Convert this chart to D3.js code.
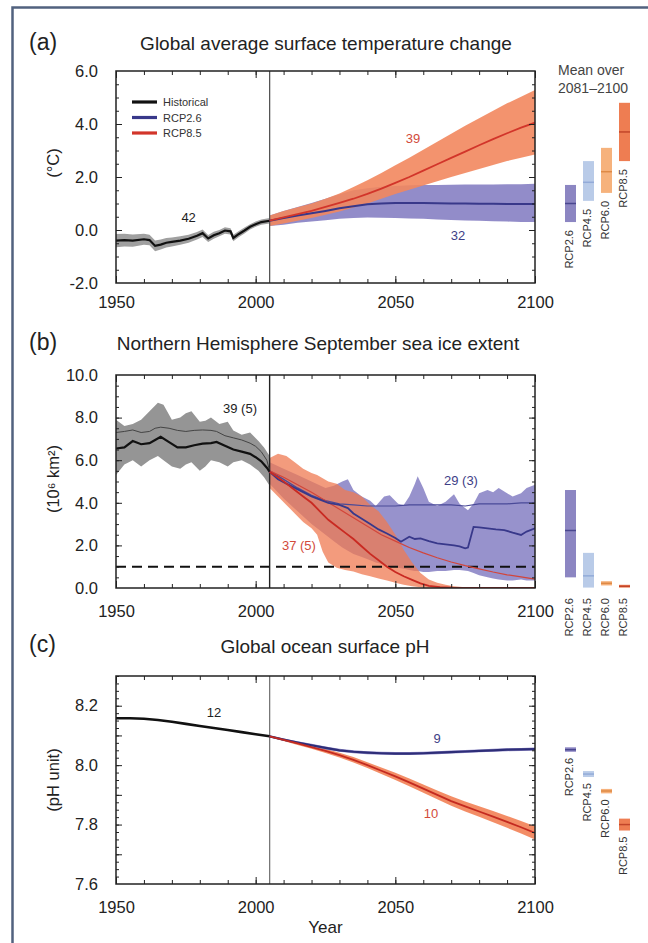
<!DOCTYPE html>
<html><head><meta charset="utf-8">
<script src="https://cdn.jsdelivr.net/npm/d3@7"></script>
<style>
body{margin:0;background:#fff}
svg{display:block;font-family:"Liberation Sans",Arial,Helvetica,sans-serif}
</style></head>
<body><svg id="chart" width="648" height="943"></svg>
<script>
// ---------------- DATA ----------------
const scenarios = ["RCP2.6","RCP4.5","RCP6.0","RCP8.5"];
const xTickLabels = [1950, 2000, 2050, 2100];
const rcpYears = [2005,2010,2015,2020,2025,2030,2035,2040,2045,2050,2055,2060,2065,2070,2075,2080,2085,2090,2095,2100];

// (a) temperature
const tempYTicks = [-2, 0, 2, 4, 6];
const tempHistYears = [1950,1953,1956,1960,1962,1964,1966,1968,1970,1973,1976,1979,1981,1983,1985,1987,1989,1991,1992,1994,1996,1998,2000,2002,2005];
const tempHistMean = [-0.40,-0.38,-0.40,-0.35,-0.38,-0.60,-0.55,-0.48,-0.45,-0.40,-0.33,-0.22,-0.12,-0.32,-0.20,-0.12,-0.02,-0.05,-0.30,-0.15,-0.02,0.12,0.22,0.30,0.35];
const tempHistLo = [-0.65,-0.62,-0.63,-0.56,-0.58,-0.80,-0.74,-0.66,-0.62,-0.56,-0.48,-0.36,-0.26,-0.45,-0.33,-0.24,-0.14,-0.17,-0.42,-0.26,-0.13,0.02,0.12,0.20,0.25];
const tempHistHi = [-0.15,-0.14,-0.17,-0.14,-0.18,-0.40,-0.36,-0.30,-0.28,-0.24,-0.18,-0.08,0.02,-0.19,-0.07,0.00,0.10,0.07,-0.18,-0.04,0.09,0.22,0.32,0.40,0.45];
const t26Mean = [0.35,0.45,0.55,0.63,0.72,0.82,0.90,0.97,1.00,1.02,1.02,1.02,1.01,1.00,1.00,0.99,0.99,0.98,0.98,0.98];
const t26Lo = [0.15,0.20,0.27,0.32,0.37,0.42,0.45,0.47,0.46,0.45,0.43,0.42,0.40,0.38,0.36,0.35,0.33,0.32,0.30,0.30];
const t26Hi = [0.55,0.72,0.87,1.02,1.18,1.35,1.50,1.58,1.63,1.66,1.69,1.70,1.70,1.71,1.72,1.72,1.72,1.73,1.73,1.75];
const t85Mean = [0.35,0.48,0.60,0.72,0.87,1.02,1.18,1.36,1.56,1.78,2.00,2.24,2.48,2.72,2.96,3.20,3.43,3.65,3.86,4.05];
const t85Lo = [0.15,0.25,0.35,0.45,0.58,0.70,0.85,1.00,1.18,1.36,1.52,1.68,1.84,2.00,2.15,2.30,2.45,2.60,2.73,2.85];
const t85Hi = [0.55,0.72,0.86,1.00,1.18,1.38,1.62,1.88,2.15,2.44,2.73,3.03,3.33,3.63,3.93,4.22,4.50,4.78,5.03,5.28];
const tempBarLo = [0.3, 1.1, 1.4, 2.6];
const tempBarHi = [1.7, 2.6, 3.1, 4.8];
const tempBarMean = [1.0, 1.8, 2.2, 3.7];
const tempCounts = ["42", "39", "32"];

// (b) sea ice
const iceYTicks = [0, 2, 4, 6, 8, 10];
const iceHistYears = [1950,1953,1956,1959,1962,1964,1966,1969,1972,1975,1978,1981,1984,1986,1989,1992,1995,1998,2000,2002,2004,2005];
const iceHistMean = [6.55,6.6,6.9,6.75,6.8,6.95,7.1,6.85,6.6,6.6,6.7,6.78,6.8,6.86,6.68,6.5,6.4,6.3,6.14,5.95,5.65,5.45];
const iceHistAll = [7.3,7.35,7.42,7.3,7.35,7.5,7.55,7.5,7.4,7.35,7.4,7.42,7.4,7.35,7.15,7.05,6.95,6.8,6.65,6.4,6.0,5.5];
const iceHistBandYears = [1950,1953,1956,1959,1962,1965,1967,1970,1973,1975,1977,1980,1982,1984,1987,1990,1992,1995,1998,2001,2003,2005];
const iceHistHi = [7.9,7.6,7.7,7.9,8.3,8.7,8.6,7.9,8.0,8.2,8.3,7.8,7.85,8.0,7.7,7.8,7.4,7.2,7.3,6.9,6.6,6.2];
const iceHistLo = [5.3,5.8,6.0,5.7,6.0,6.2,6.0,5.7,5.6,5.8,5.9,5.5,5.7,6.0,5.9,5.7,5.9,6.0,5.8,5.5,5.2,4.8];
const ice26All = [5.5,5.1,4.7,4.35,4.1,3.95,3.9,3.85,3.85,3.85,3.9,3.9,3.9,3.9,3.85,3.95,3.95,3.95,4.0,4.0];
const ice85All = [5.5,5.2,4.85,4.5,4.1,3.7,3.3,2.9,2.5,2.2,1.9,1.65,1.42,1.22,1.05,0.9,0.75,0.62,0.52,0.42];
const ice26SubYears = [2005,2008,2011,2014,2017,2020,2023,2026,2030,2033,2035,2038,2041,2044,2047,2050,2052,2055,2057,2059,2062,2065,2068,2071,2073,2075,2076,2078,2080,2083,2086,2089,2092,2095,2097,2100];
const ice26SubMean = [5.45,5.1,4.9,4.7,4.5,4.3,4.15,4.0,3.9,3.75,3.5,3.25,3.0,2.75,2.56,2.35,2.17,2.41,2.3,2.33,2.2,2.1,2.05,2.0,1.95,1.86,1.9,2.87,2.85,2.8,2.75,2.72,2.6,2.49,2.65,2.8];
const ice85SubYears = [2005,2008,2011,2014,2017,2020,2023,2026,2029,2032,2035,2038,2041,2044,2047,2050,2053,2056,2059,2062,2066,2070,2080,2100];
const ice85SubMean = [5.45,5.2,4.9,4.6,4.3,4.0,3.6,3.2,2.9,2.6,2.3,1.95,1.6,1.3,1.0,0.75,0.55,0.38,0.22,0.1,0.04,0.02,0.0,0.0];
const ice26BandYears = [2005,2010,2015,2020,2025,2028,2031,2033,2035,2038,2041,2043,2046,2048,2051,2053,2055,2057,2058,2060,2062,2065,2068,2071,2073,2076,2078,2080,2083,2085,2087,2090,2092,2095,2097,2100];
const ice26Hi = [5.9,5.6,5.3,5.0,4.7,4.8,5.0,5.1,4.6,4.3,4.1,3.85,4.3,4.35,3.95,3.9,4.3,4.9,5.25,4.7,4.05,3.85,4.05,4.4,3.95,3.65,3.95,4.45,4.6,4.5,4.7,4.45,4.3,4.45,4.7,4.85];
const ice26Lo = [4.9,4.2,3.6,3.0,2.5,2.2,1.9,1.75,1.6,1.45,1.3,1.2,1.1,1.0,0.95,0.9,0.85,0.8,0.8,0.75,0.75,0.8,0.8,0.85,0.85,0.8,0.7,0.6,0.5,0.45,0.4,0.35,0.35,0.4,0.35,0.35];
const ice85BandYears = [2005,2008,2011,2014,2017,2020,2022,2024,2026,2029,2032,2035,2038,2041,2044,2047,2050,2053,2056,2059,2062,2065,2068,2071,2075,2080];
const ice85Hi = [6.1,6.3,6.2,5.9,5.6,5.4,5.3,5.15,5.0,4.9,4.6,4.5,4.3,3.9,3.6,3.1,2.5,1.8,1.2,0.7,0.4,0.25,0.15,0.08,0.03,0.0];
const ice85Lo = [4.7,4.3,3.9,3.5,3.1,2.8,2.5,1.7,1.2,0.95,0.85,0.78,0.65,0.55,0.45,0.35,0.25,0.15,0.08,0.03,0.01,0,0,0,0,0];
const iceThreshold = 1.0;
const iceBarLo = [0.5, 0.02, 0.12, 0.02];
const iceBarHi = [4.6, 1.65, 0.32, 0.15];
const iceBarMean = [2.7, 0.57, 0.22, 0.08];
const iceCounts = ["39 (5)", "29 (3)", "37 (5)"];

// (c) pH
const phYTicks = [7.6, 7.8, 8.0, 8.2];
const phHistYears = [1950,1955,1960,1965,1970,1975,1980,1985,1990,1995,2000,2005];
const phHistMean = [8.158,8.158,8.156,8.152,8.146,8.139,8.132,8.125,8.118,8.111,8.104,8.097];
const ph26Mean = [8.097,8.086,8.076,8.067,8.058,8.050,8.045,8.042,8.040,8.039,8.039,8.040,8.042,8.044,8.046,8.048,8.050,8.052,8.053,8.054];
const ph26Lo = [8.094,8.082,8.072,8.062,8.053,8.045,8.040,8.037,8.035,8.034,8.034,8.035,8.037,8.039,8.041,8.043,8.045,8.047,8.048,8.049];
const ph26Hi = [8.100,8.090,8.080,8.072,8.063,8.055,8.050,8.047,8.045,8.044,8.044,8.045,8.047,8.049,8.051,8.053,8.055,8.057,8.058,8.059];
const ph85Mean = [8.097,8.085,8.073,8.061,8.048,8.034,8.018,8.000,7.981,7.962,7.942,7.921,7.900,7.879,7.861,7.844,7.827,7.809,7.791,7.772];
const ph85Lo = [8.094,8.081,8.068,8.055,8.041,8.026,8.009,7.990,7.970,7.950,7.929,7.907,7.885,7.863,7.844,7.826,7.808,7.789,7.770,7.750];
const ph85Hi = [8.100,8.089,8.078,8.067,8.055,8.042,8.027,8.010,7.992,7.974,7.955,7.935,7.915,7.895,7.878,7.862,7.846,7.829,7.812,7.794];
const phBarLo = [8.045, 7.960, 7.905, 7.780];
const phBarHi = [8.060, 7.980, 7.920, 7.820];
const phBarMean = [8.052, 7.970, 7.913, 7.800];
const phCounts = ["12", "9", "10"];

// ---------------- STYLE / LAYOUT ----------------
const COL = {
  hist: "#111", histBand: "#a0a0a0", histBandB: "#959595",
  l26: "#38388a", band26: "#8c86c6",
  l85: "#d2352a", band85: "#f2875e",
  barFill: ["#8c86c2", "#b9cbe8", "#f6b27c", "#ee7d52"],
  barLine: ["#4a478f", "#93abd8", "#de8a46", "#c2452a"],
  frame: "#222", text: "#222"
};
const X0 = 116, X1 = 535;
const barX = [570.5, 588.5, 606.5, 624.5];
const barW = 11;

const svg = d3.select("#chart");
svg.append("rect").attr("x", 0).attr("y", 0).attr("width", 648).attr("height", 943).attr("fill", "#fff");
svg.append("rect").attr("x", 12.5).attr("y", 7.5).attr("width", 720).attr("height", 1000)
  .attr("fill", "none").attr("stroke", "#51627f").attr("stroke-width", 2.5);

const x = d3.scaleLinear().domain([1950, 2100]).range([X0, X1]);

function zip(xs, ys) { return xs.map((d, i) => [d, ys[i]]); }
function zip3(xs, lo, hi) { return xs.map((d, i) => [d, lo[i], hi[i]]); }

function panel(cfg) {
  const y = d3.scaleLinear().domain(cfg.domain).range([cfg.bottom, cfg.top]);
  const g = svg.append("g");
  const clipId = "clip" + cfg.id;
  svg.append("clipPath").attr("id", clipId).append("rect")
    .attr("x", X0).attr("y", cfg.top).attr("width", X1 - X0).attr("height", cfg.bottom - cfg.top);
  const plot = g.append("g").attr("clip-path", `url(#${clipId})`);
  const area = d3.area().x(d => x(d[0])).y0(d => y(d[1])).y1(d => y(d[2]));
  const line = d3.line().x(d => x(d[0])).y(d => y(d[1]));
  g.append("text").attr("x", 29).attr("y", cfg.letterY).attr("font-size", 23).attr("fill", COL.text).text(cfg.letter);
  g.append("text").attr("x", cfg.titleX).attr("y", cfg.titleY).attr("text-anchor", "middle")
    .attr("font-size", 19).attr("fill", COL.text).text(cfg.title);
  g.append("text").attr("transform", `translate(59,${cfg.ylabY}) rotate(-90)`).attr("text-anchor", "middle")
    .attr("font-size", 16.5).attr("fill", COL.text).text(cfg.ylab);
  return {g, plot, y, area, line};
}

function axes(P, cfg) {
  const g = P.g, y = P.y;
  const clean = s => { s.select(".domain").remove(); s.selectAll("line").attr("stroke", COL.frame); };
  g.append("g").attr("transform", `translate(0,${cfg.bottom})`)
    .call(d3.axisBottom(x).tickValues(xTickLabels).tickFormat(d3.format("d")).tickSizeInner(-7).tickSizeOuter(0).tickPadding(cfg.xPad))
    .call(clean).call(s => s.selectAll("text").attr("font-size", 16.5).attr("fill", COL.text).attr("font-family", null));
  g.append("g").attr("transform", `translate(0,${cfg.bottom})`)
    .call(d3.axisBottom(x).tickValues(d3.range(1960, 2100, 10)).tickFormat("").tickSizeInner(-4).tickSizeOuter(0)).call(clean);
  g.append("g").attr("transform", `translate(0,${cfg.top})`)
    .call(d3.axisTop(x).tickValues(xTickLabels).tickFormat("").tickSizeInner(-7).tickSizeOuter(0)).call(clean);
  g.append("g").attr("transform", `translate(0,${cfg.top})`)
    .call(d3.axisTop(x).tickValues(d3.range(1960, 2100, 10)).tickFormat("").tickSizeInner(-4).tickSizeOuter(0)).call(clean);
  g.append("g").attr("transform", `translate(${X0},0)`)
    .call(d3.axisLeft(y).tickValues(cfg.yTicks).tickFormat(d => d.toFixed(1)).tickSizeInner(0).tickSizeOuter(0).tickPadding(18))
    .call(clean).call(s => s.selectAll("text").attr("font-size", 16.5).attr("fill", COL.text).attr("font-family", null));
  [[X0, d3.axisLeft], [X1, d3.axisRight]].forEach(([pos, ax]) => {
    g.append("g").attr("transform", `translate(${pos},0)`)
      .call(ax(y).tickValues(cfg.yMajor).tickFormat("").tickSizeInner(-6).tickSizeOuter(0)).call(clean);
    g.append("g").attr("transform", `translate(${pos},0)`)
      .call(ax(y).tickValues(cfg.yMinor).tickFormat("").tickSizeInner(-3).tickSizeOuter(0)).call(clean);
  });
  g.append("rect").attr("x", X0).attr("y", cfg.top).attr("width", X1 - X0).attr("height", cfg.bottom - cfg.top)
    .attr("fill", "none").attr("stroke", COL.frame).attr("stroke-width", 1.5);
}

function sideBars(P, lo, hi, mean, labelTop) {
  const g = P.g, y = P.y;
  scenarios.forEach((s, i) => {
    g.append("rect").attr("x", barX[i] - barW / 2).attr("y", y(hi[i])).attr("width", barW)
      .attr("height", Math.max(2, y(lo[i]) - y(hi[i]))).attr("fill", COL.barFill[i]);
    g.append("line").attr("x1", barX[i] - barW / 2).attr("x2", barX[i] + barW / 2)
      .attr("y1", y(mean[i])).attr("y2", y(mean[i])).attr("stroke", COL.barLine[i]).attr("stroke-width", 1.5);
    const ty = labelTop(y(lo[i]));
    g.append("text").attr("transform", `translate(${barX[i] + 2},${ty}) rotate(-90)`)
      .attr("text-anchor", "end").attr("font-size", 11).attr("fill", "#333").text(s);
  });
}

function note(P, xv, yv, txt, col) {
  P.g.append("text").attr("x", x(xv)).attr("y", P.y(yv)).attr("text-anchor", "middle")
    .attr("font-size", 13).attr("fill", col).text(txt);
}

// ---------------- PANEL (a) ----------------
const cfgA = {id: "a", top: 71, bottom: 283, domain: [-2, 6], letter: "(a)", letterY: 50, title: "Global average surface temperature change",
  titleX: 326, titleY: 50, ylab: "(°C)", ylabY: 163, yTicks: tempYTicks, yMajor: [0, 2, 4], yMinor: d3.range(-1.5, 6, 0.5), xPad: 13};
const A = panel(cfgA);
A.plot.append("path").datum(zip3(tempHistYears, tempHistLo, tempHistHi)).attr("d", A.area).attr("fill", COL.histBand);
A.plot.append("path").datum(zip3(rcpYears, t26Lo, t26Hi)).attr("d", A.area).attr("fill", COL.band26).attr("opacity", 0.95);
A.plot.append("path").datum(zip3(rcpYears, t85Lo, t85Hi)).attr("d", A.area).attr("fill", COL.band85).attr("opacity", 0.9);
A.plot.append("line").attr("x1", x(2005)).attr("x2", x(2005)).attr("y1", cfgA.top).attr("y2", cfgA.bottom).attr("stroke", "#555").attr("stroke-width", 1.3);
A.plot.append("path").datum(zip(tempHistYears, tempHistMean)).attr("d", A.line).attr("fill", "none").attr("stroke", COL.hist).attr("stroke-width", 2.2);
A.plot.append("path").datum(zip(rcpYears, t26Mean)).attr("d", A.line).attr("fill", "none").attr("stroke", COL.l26).attr("stroke-width", 2);
A.plot.append("path").datum(zip(rcpYears, t85Mean)).attr("d", A.line).attr("fill", "none").attr("stroke", COL.l85).attr("stroke-width", 1.8);
axes(A, cfgA);
[["Historical", COL.hist], ["RCP2.6", COL.l26], ["RCP8.5", COL.l85]].forEach(([t, c], i) => {
  const yy = 102 + i * 15.5;
  A.g.append("line").attr("x1", 132).attr("x2", 157).attr("y1", yy).attr("y2", yy).attr("stroke", c).attr("stroke-width", 3.2);
  A.g.append("text").attr("x", 163).attr("y", yy + 4).attr("font-size", 11).attr("fill", "#333").text(t);
});
note(A, 1976, 0.30, tempCounts[0], "#222");
note(A, 2056.3, 3.28, tempCounts[1], "#d24a3a");
note(A, 2072.4, -0.38, tempCounts[2], "#3e3e86");
A.g.append("text").attr("x", 558).attr("y", 75).attr("font-size", 14).attr("fill", "#444").text("Mean over");
A.g.append("text").attr("x", 558).attr("y", 93).attr("font-size", 14).attr("fill", "#444").text("2081–2100");
sideBars(A, tempBarLo, tempBarHi, tempBarMean, yb => yb + 8);

// ---------------- PANEL (b) ----------------
const cfgB = {id: "b", top: 375, bottom: 588, domain: [0, 10], letter: "(b)", letterY: 350, title: "Northern Hemisphere September sea ice extent",
  titleX: 318, titleY: 350, ylab: "(10⁶ km²)", ylabY: 479, yTicks: iceYTicks, yMajor: [2, 4, 6, 8], yMinor: d3.range(0.5, 10, 0.5), xPad: 17};
const B = panel(cfgB);
B.plot.append("path").datum(zip3(iceHistBandYears, iceHistLo, iceHistHi)).attr("d", B.area).attr("fill", COL.histBandB);
B.plot.append("path").datum(zip3(ice26BandYears, ice26Lo, ice26Hi)).attr("d", B.area).attr("fill", COL.band26).attr("opacity", 0.9);
B.plot.append("path").datum(zip3(ice85BandYears, ice85Lo, ice85Hi)).attr("d", B.area).attr("fill", "#ef7a52").attr("opacity", 0.75);
B.plot.append("line").attr("x1", x(1950)).attr("x2", x(2100)).attr("y1", B.y(iceThreshold)).attr("y2", B.y(iceThreshold))
  .attr("stroke", "#111").attr("stroke-width", 2).attr("stroke-dasharray", "10,6");
B.plot.append("line").attr("x1", x(2005)).attr("x2", x(2005)).attr("y1", cfgB.top).attr("y2", cfgB.bottom).attr("stroke", "#222").attr("stroke-width", 1.4);
B.plot.append("path").datum(zip(iceHistYears, iceHistAll)).attr("d", B.line).attr("fill", "none").attr("stroke", "#444").attr("stroke-width", 1);
B.plot.append("path").datum(zip(rcpYears, ice26All)).attr("d", B.line).attr("fill", "none").attr("stroke", "#4a4a98").attr("stroke-width", 1.2);
B.plot.append("path").datum(zip(rcpYears, ice85All)).attr("d", B.line).attr("fill", "none").attr("stroke", "#d2453a").attr("stroke-width", 1.2);
B.plot.append("path").datum(zip(iceHistYears, iceHistMean)).attr("d", B.line).attr("fill", "none").attr("stroke", COL.hist).attr("stroke-width", 2.2);
B.plot.append("path").datum(zip(ice26SubYears, ice26SubMean)).attr("d", B.line).attr("fill", "none").attr("stroke", COL.l26).attr("stroke-width", 1.8);
B.plot.append("path").datum(zip(ice85SubYears, ice85SubMean)).attr("d", B.line).attr("fill", "none").attr("stroke", "#c92a22").attr("stroke-width", 1.8);
axes(B, cfgB);
note(B, 1994.4, 8.22, iceCounts[0], "#222");
note(B, 2073.5, 4.84, iceCounts[1], "#3e3e86");
note(B, 2015.5, 1.78, iceCounts[2], "#d24a3a");
sideBars(B, iceBarLo, iceBarHi, iceBarMean, yb => Math.max(yb + 8, 598));

// ---------------- PANEL (c) ----------------
const cfgC = {id: "c", top: 676, bottom: 884, domain: [7.6, 8.3], letter: "(c)", letterY: 652, title: "Global ocean surface pH",
  titleX: 325, titleY: 653, ylab: "(pH unit)", ylabY: 780, yTicks: phYTicks, yMajor: [7.7, 7.8, 7.9, 8.0, 8.1, 8.2],
  yMinor: d3.range(7.625, 8.3, 0.025), xPad: 17};
const Cc = panel(cfgC);
Cc.plot.append("path").datum(zip3(rcpYears, ph85Lo, ph85Hi)).attr("d", Cc.area).attr("fill", COL.band85).attr("opacity", 0.95);
Cc.plot.append("path").datum(zip3(rcpYears, ph26Lo, ph26Hi)).attr("d", Cc.area).attr("fill", COL.band26).attr("opacity", 0.95);
Cc.plot.append("line").attr("x1", x(2005)).attr("x2", x(2005)).attr("y1", cfgC.top).attr("y2", cfgC.bottom).attr("stroke", "#777").attr("stroke-width", 1.3);
Cc.plot.append("path").datum(zip(phHistYears, phHistMean)).attr("d", Cc.line).attr("fill", "none").attr("stroke", COL.hist).attr("stroke-width", 2.6);
Cc.plot.append("path").datum(zip(rcpYears, ph26Mean)).attr("d", Cc.line).attr("fill", "none").attr("stroke", "#2e2e78").attr("stroke-width", 2.2);
Cc.plot.append("path").datum(zip(rcpYears, ph85Mean)).attr("d", Cc.line).attr("fill", "none").attr("stroke", "#c42a20").attr("stroke-width", 1.8);
axes(Cc, cfgC);
note(Cc, 1985.1, 8.162, phCounts[0], "#222");
note(Cc, 2065, 8.075, phCounts[1], "#3e3e86");
note(Cc, 2062.8, 7.822, phCounts[2], "#d24a3a");
sideBars(Cc, phBarLo, phBarHi, phBarMean, yb => yb + 6);
Cc.g.append("text").attr("x", (X0 + X1) / 2).attr("y", 933).attr("text-anchor", "middle").attr("font-size", 17).attr("fill", COL.text).text("Year");
</script></body></html>
